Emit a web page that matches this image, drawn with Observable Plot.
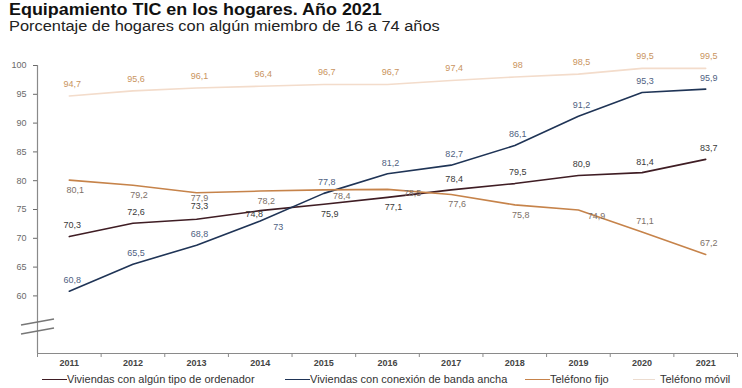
<!DOCTYPE html>
<html>
<head>
<meta charset="utf-8">
<script src="https://cdn.jsdelivr.net/npm/d3@7"></script>
<script src="https://cdn.jsdelivr.net/npm/@observablehq/plot@0.6"></script>
<style>
  html, body { margin: 0; padding: 0; background: #fff; }
  body { width: 742px; height: 388px; overflow: hidden; font-family: "Liberation Sans", Arial, sans-serif; position: relative; }
  #title { position: absolute; left: 9px; top: 1px; font-weight: bold; font-size: 16px; color: #111; white-space: nowrap; transform: scaleX(1.12); transform-origin: left top; }
  #subtitle { position: absolute; left: 9px; top: 18px; font-size: 14px; color: #222; white-space: nowrap; transform: scaleX(1.17); transform-origin: left top; }
  #chart { position: absolute; left: 0; top: 40px; }
  #legend { position: absolute; left: 0; top: 372px; width: 742px; height: 16px; font-size: 11px; color: #333; white-space: nowrap; }
  .item { position: absolute; top: 0; display: flex; align-items: center; height: 14px; }
  .sw { display: inline-block; width: 25px; height: 0; border-top: 1.6px solid; }
</style>
</head>
<body>
<div id="title">Equipamiento TIC en los hogares. Año 2021</div>
<div id="subtitle">Porcentaje de hogares con algún miembro de 16 a 74 años</div>
<div id="chart"></div>
<div id="legend"></div>
<script>
// ---- data ----
const years = [2011, 2012, 2013, 2014, 2015, 2016, 2017, 2018, 2019, 2020, 2021];
const ordenador = [70.3, 72.6, 73.3, 74.8, 75.9, 77.1, 78.4, 79.5, 80.9, 81.4, 83.7];
const bandaAncha = [60.8, 65.5, 68.8, 73, 77.8, 81.2, 82.7, 86.1, 91.2, 95.3, 95.9];
const telFijo = [80.1, 79.2, 77.9, 78.2, 78.4, 78.5, 77.6, 75.8, 74.9, 71.1, 67.2];
const telMovil = [94.7, 95.6, 96.1, 96.4, 96.7, 96.7, 97.4, 98, 98.5, 99.5, 99.5];
const seriesNames = ["Viviendas con algún tipo de ordenador", "Viviendas con conexión de banda ancha", "Teléfono fijo", "Teléfono móvil"];
const yTicks = [60, 65, 70, 75, 80, 85, 90, 95, 100];
const yDomain = [50, 100];
const axisBreak = 54.6;
// label placement keywords (a = above, aa = further above, b = below, bs = just below, br = below-right, r = right, l = left)
const placeOrdenador = ["a","a","aa","l","b","b","a","a","a","a","a"];
const placeBanda = ["a","a","a","br","a","a","a","a","a","a","a"];
const placeFijo = ["b","b","bs","b","br","r","b","b","br","a","a"];
const placeMovil = ["a","a","a","a","a","a","a","a","a","a","a"];

const lineColors = ["#3f1d24", "#1f3456", "#c6834a", "#f3dccb"];
const labelColors = ["#3a3a3a", "#4f5f82", "#7d7068", "#c99460"];

const seriesValues = [ordenador, bandaAncha, telFijo, telMovil];
const places = [placeOrdenador, placeBanda, placeFijo, placeMovil];

const data = [];
seriesValues.forEach((vals, s) => {
  vals.forEach((v, i) => data.push({ serie: seriesNames[s], s, year: years[i], value: v, place: places[s][i] }));
});

const offsets = {
  a: { dx: 3, dy: -11 },
  aa: { dx: 3, dy: -13 },
  b: { dx: 6, dy: 10 },
  bs: { dx: 3, dy: 5 },
  br: { dx: 18, dy: 6 },
  r: { dx: 25, dy: 4 },
  l: { dx: -6, dy: 3 }
};

const boundaries = years.map(y => y - 0.5).concat([years[years.length - 1] + 0.5]);
const xDomain = [boundaries[0], boundaries[boundaries.length - 1]];

const textMarks = Object.keys(offsets).flatMap(p =>
  seriesValues.map((_, s) =>
    Plot.text(data.filter(d => d.place === p && d.s === s), {
      x: "year", y: "value",
      text: d => String(d.value).replace(".", ","),
      dx: offsets[p].dx, dy: offsets[p].dy + (s === 3 ? -1 : 0),
      fill: labelColors[s], fontSize: 9
    })
  )
);

const breakMark = (index, scales, values, dims) => {
  const g = d3.create("svg:g");
  const x0 = dims.marginLeft;
  const yb = scales.y(axisBreak);
  [-4.5, 4.5].forEach(off => {
    g.append("line")
      .attr("x1", x0 - 16).attr("x2", x0 + 17)
      .attr("y1", yb + off + 3).attr("y2", yb + off - 3)
      .attr("stroke", "#777").attr("stroke-width", 1.6);
  });
  return g.node();
};

const chart = Plot.plot({
  width: 742,
  height: 330,
  marginLeft: 37,
  marginRight: 5,
  marginTop: 25,
  marginBottom: 17,
  style: { fontFamily: "Liberation Sans, Arial, sans-serif", background: "#fff" },
  x: { type: "linear", domain: xDomain, axis: null },
  y: { domain: yDomain, axis: null },
  marks: [
    Plot.ruleY([yDomain[0]], { stroke: "#8a8a8a", strokeWidth: 1.2 }),
    Plot.ruleX([xDomain[0]], { y1: yDomain[0], y2: yDomain[1], stroke: "#8a8a8a", strokeWidth: 1.2 }),
    Plot.axisY({ ticks: yTicks, tickSize: 4, tickPadding: 7, fontSize: 9, color: "#6a6a6a", label: null }),
    Plot.axisX({ ticks: boundaries, tickSize: 4, tickFormat: () => "", color: "#8a8a8a", label: null }),
    Plot.axisX({ ticks: years, tickSize: 0, tickPadding: 6, tickFormat: d => String(d), fontSize: 9, fontWeight: "bold", color: "#444", label: null }),
    breakMark,
    Plot.line(data, { x: "year", y: "value", z: "serie", stroke: d => lineColors[d.s], strokeWidth: 1.6 }),
    ...textMarks
  ]
});

document.getElementById("chart").appendChild(chart);

const legend = d3.select("#legend");
const legendLeft = [42, 285, 525, 633];
seriesNames.forEach((n, i) => {
  const it = legend.append("div").attr("class", "item").style("left", legendLeft[i] + "px");
  it.append("span").attr("class", "sw")
    .style("width", i === 3 ? "22px" : "25px")
    .style("border-top-color", i === 3 ? "#ecdccf" : lineColors[i])
    .style("margin-right", i === 3 ? "5px" : "0px");
  it.append("span").text(n);
});
</script>
</body>
</html>
